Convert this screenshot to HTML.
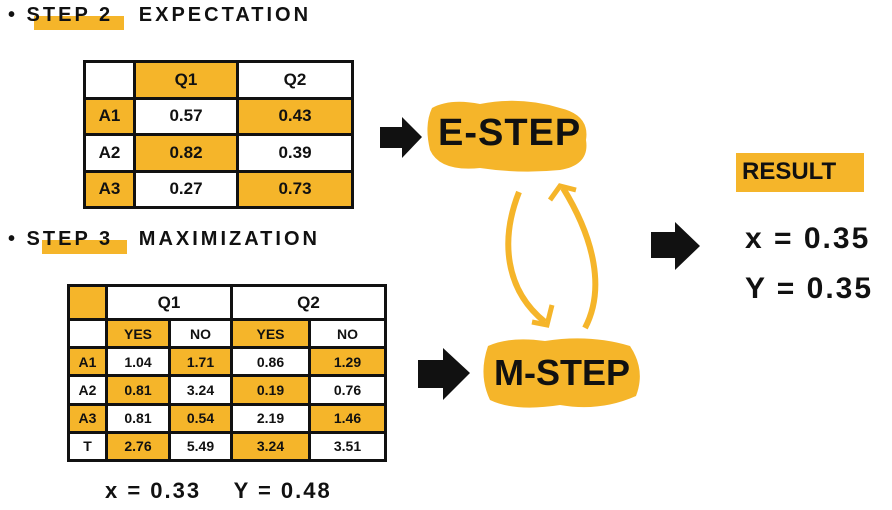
<!DOCTYPE html>
<html><head><meta charset="utf-8"><style>
body{margin:0;width:892px;height:510px;background:#fff;position:relative;overflow:hidden;font-family:"Liberation Sans",sans-serif;font-weight:bold;color:#111}
.a{position:absolute}
table{position:absolute;border-collapse:collapse;table-layout:fixed}
td{border:3px solid #111;text-align:center;padding:0;font-size:17px;font-weight:bold}
.y{background:#F5B52A}
.t2 td{font-size:14px}
.h{font-size:20px;letter-spacing:3px}
</style></head><body>
<div class="a" style="left:34px;top:16px;width:90px;height:14px;background:#F5B52A"></div>
<div class="a h" style="left:8px;top:4px">• STEP 2&nbsp;&nbsp;&nbsp;EXPECTATION</div>
<div class="a" style="left:42px;top:240px;width:85px;height:14px;background:#F5B52A"></div>
<div class="a h" style="left:8px;top:228px">• STEP 3&nbsp;&nbsp;&nbsp;MAXIMIZATION</div>

<table style="left:83px;top:60px;width:268px;height:149px">
<colgroup><col style="width:50px"><col style="width:103px"><col style="width:115px"></colgroup>
<tr><td></td><td class="y">Q1</td><td>Q2</td></tr>
<tr><td class="y">A1</td><td>0.57</td><td class="y">0.43</td></tr>
<tr><td>A2</td><td class="y">0.82</td><td>0.39</td></tr>
<tr><td class="y">A3</td><td>0.27</td><td class="y">0.73</td></tr>
</table>

<table class="t2" style="left:67px;top:284px;width:317px;height:178px">
<colgroup><col style="width:38px"><col style="width:63px"><col style="width:62px"><col style="width:78px"><col style="width:76px"></colgroup>
<tr><td class="y"></td><td colspan="2" style="font-size:17px">Q1</td><td colspan="2" style="font-size:17px">Q2</td></tr>
<tr><td></td><td class="y">YES</td><td>NO</td><td class="y">YES</td><td>NO</td></tr>
<tr><td class="y">A1</td><td>1.04</td><td class="y">1.71</td><td>0.86</td><td class="y">1.29</td></tr>
<tr><td>A2</td><td class="y">0.81</td><td>3.24</td><td class="y">0.19</td><td>0.76</td></tr>
<tr><td class="y">A3</td><td>0.81</td><td class="y">0.54</td><td>2.19</td><td class="y">1.46</td></tr>
<tr><td>T</td><td class="y">2.76</td><td>5.49</td><td class="y">3.24</td><td>3.51</td></tr>
</table>
<div class="a" style="left:105px;top:478px;font-size:22px;letter-spacing:2px">x = 0.33&nbsp;&nbsp;&nbsp;&nbsp;Y = 0.48</div>

<svg class="a" style="left:0;top:0" width="892" height="510">
<path d="M380 127 L402 127 L402 117 L422 137 L402 158 L402 148 L380 148Z" fill="#111"/>
<path d="M651 232 L675 232 L675 222 L700 246 L675 270 L675 258 L651 258Z" fill="#111"/>
<path d="M418 360 L443 360 L443 348 L470 373 L443 400 L443 388 L418 388Z" fill="#111"/>
<path d="M519 192 C500 240 505 290 545 322" stroke="#F5B52A" stroke-width="6" fill="none"/>
<path d="M532 322 L547 325 L552 305" stroke="#F5B52A" stroke-width="5" fill="none"/>
<path d="M585 328 C605 290 595 240 563 188" stroke="#F5B52A" stroke-width="6" fill="none"/>
<path d="M550 200 L560 186 L576 190" stroke="#F5B52A" stroke-width="5" fill="none"/>
<path d="M432 108 Q450 98 480 104 Q520 96 560 108 Q590 115 586 140 Q590 165 560 170 Q520 174 480 168 Q440 172 430 150 Q424 125 432 108Z" fill="#F5B52A"/>
<path d="M488 346 Q510 336 545 341 Q590 334 630 346 Q646 370 636 396 Q600 412 560 405 Q515 412 490 400 Q478 375 488 346Z" fill="#F5B52A"/>
<rect x="736" y="153" width="128" height="39" fill="#F5B52A"/>
</svg>
<div class="a" style="left:438px;top:112px;font-size:38px;letter-spacing:1px">E-STEP</div>
<div class="a" style="left:494px;top:352px;font-size:36px;letter-spacing:0px">M-STEP</div>
<div class="a" style="left:742px;top:158px;font-size:24px">RESULT</div>
<div class="a" style="left:745px;top:222px;font-size:30px;letter-spacing:2px">x = 0.35</div>
<div class="a" style="left:745px;top:272px;font-size:30px;letter-spacing:2px">Y = 0.35</div>
</body></html>
